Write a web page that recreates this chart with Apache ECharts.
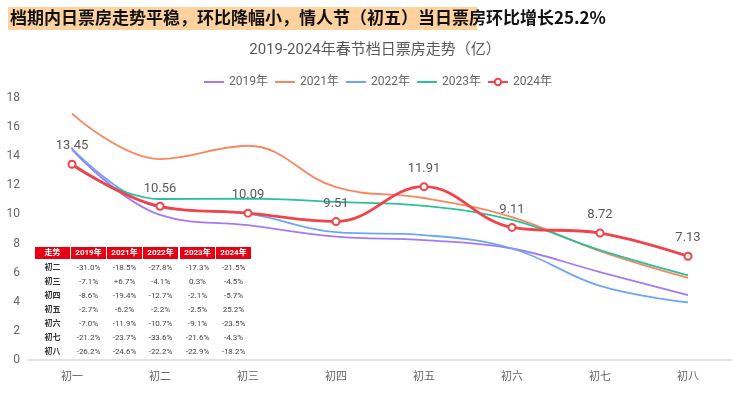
<!DOCTYPE html>
<html><head><meta charset="utf-8">
<script src="https://cdn.jsdelivr.net/npm/echarts@6/dist/echarts.min.js"></script>
<style>html,body{margin:0;padding:0;background:#fff}#c{width:732px;height:394px}</style>
</head><body><div id="c"></div>
<script>
const categories = ['初一','初二','初三','初四','初五','初六','初七','初八'];
const s2019 = [14.45, 9.97, 9.26, 8.47, 8.24, 7.66, 6.04, 4.46];
const s2021 = [16.93, 13.80, 14.72, 11.87, 11.13, 9.81, 7.48, 5.64];
const s2022 = [14.52, 10.48, 10.05, 8.78, 8.58, 7.66, 5.09, 3.96];
const s2023 = [13.37, 11.06, 11.09, 10.86, 10.59, 9.62, 7.55, 5.82];
const s2024 = [13.45, 10.56, 10.09, 9.51, 11.91, 9.11, 8.72, 7.13];
const tableHeader = ['走势','2019年','2021年','2022年','2023年','2024年'];
const tableRows = [
  ['初二','-31.0%','-18.5%','-27.8%','-17.3%','-21.5%'],
  ['初三','-7.1%','+6.7%','-4.1%','0.3%','-4.5%'],
  ['初四','-8.6%','-19.4%','-12.7%','-2.1%','-5.7%'],
  ['初五','-2.7%','-6.2%','-2.2%','-2.5%','25.2%'],
  ['初六','-7.0%','-11.9%','-10.7%','-9.1%','-23.5%'],
  ['初七','-21.2%','-23.7%','-33.6%','-21.6%','-4.3%'],
  ['初八','-26.2%','-24.6%','-22.2%','-22.9%','-18.2%']
];
const FF = "Roboto, 'Noto Sans CJK SC', sans-serif";
const chart = echarts.init(document.getElementById('c'));

const graphics = [];
graphics.push({type:'rect', shape:{x:8,y:7,width:469,height:23}, style:{fill:'#fdd29f'}, z:1});
graphics.push({type:'text', left:10, top:9, style:{text:'档期内日票房走势平稳，环比降幅小，情人节（初五）当日票房环比增长25.2%', font:"bold 17px 'Noto Sans CJK SC', sans-serif", fill:'#111'}, z:2});
const colX = [35,71,107,143,180,216];
const colW = 35;
tableHeader.forEach((h,i)=>{
  graphics.push({type:'rect', shape:{x:colX[i], y:247, width:colW, height:12}, style:{fill:'#e60012'}, z:5});
  graphics.push({type:'text', x:colX[i]+colW/2, y:253, style:{text:h, align:'center', verticalAlign:'middle', font:"bold 8px "+FF, fill:'#fff'}, z:6});
});
tableRows.forEach((r,ri)=>{
  const y = 268 + ri*14;
  r.forEach((v,ci)=>{
    graphics.push({type:'text', x:colX[ci]+colW/2, y:y, style:{text:v, align:'center', verticalAlign:'middle', font:(ci===0?'bold ':'')+"8px "+FF, fill:ci===0?'#333':'#444'}, z:6});
  });
});

function mk(name, data, color){
  return {name, type:'line', data, smooth:0.4, symbol:'none', lineStyle:{width:1.8, color}, itemStyle:{color}, z:2};
}
const hideSym = {opacity:0};
chart.setOption({
  animation:false,
  textStyle:{fontFamily:FF},
  title:{text:'2019-2024年春节档日票房走势（亿）', left:370, textAlign:'center', top:38, textStyle:{fontSize:15, fontWeight:'normal', color:'#595959', fontFamily:FF}},
  legend:{top:71, left:198, itemWidth:20, itemHeight:8, itemGap:6, textStyle:{color:'#666', fontSize:12, fontFamily:FF},
    data:[{name:'2019年', itemStyle:hideSym},{name:'2021年', itemStyle:hideSym},{name:'2022年', itemStyle:hideSym},{name:'2023年', itemStyle:hideSym},{name:'2024年'}]},
  grid:{left:28, right:0, top:98, bottom:34},
  xAxis:{type:'category', data:categories, boundaryGap:true,
    axisLine:{lineStyle:{color:'#d9d9d9', width:1.5}}, axisTick:{show:false},
    axisLabel:{color:'#666', fontSize:11, margin:12, fontFamily:FF}},
  yAxis:{type:'value', min:0, max:18, interval:2, splitLine:{show:false},
    axisLine:{show:false}, axisTick:{show:false},
    axisLabel:{color:'#666', fontSize:12, margin:8, fontFamily:FF}},
  series:[
    mk('2019年', s2019, '#a37af4'),
    mk('2021年', s2021, '#fa8660'),
    mk('2022年', s2022, '#6ea6f4'),
    mk('2023年', s2023, '#2cc09a'),
    {name:'2024年', type:'line', data:s2024, smooth:0.4, symbol:'emptyCircle', symbolSize:7,
      lineStyle:{width:2.8, color:'#f0434a'}, itemStyle:{color:'#f0434a', borderColor:'#f0434a', borderWidth:1.2}, z:3,
      label:{show:true, position:'top', distance:7, fontSize:13, color:'#595959', fontFamily:FF}}
  ],
  graphic: graphics
});
</script></body></html>
